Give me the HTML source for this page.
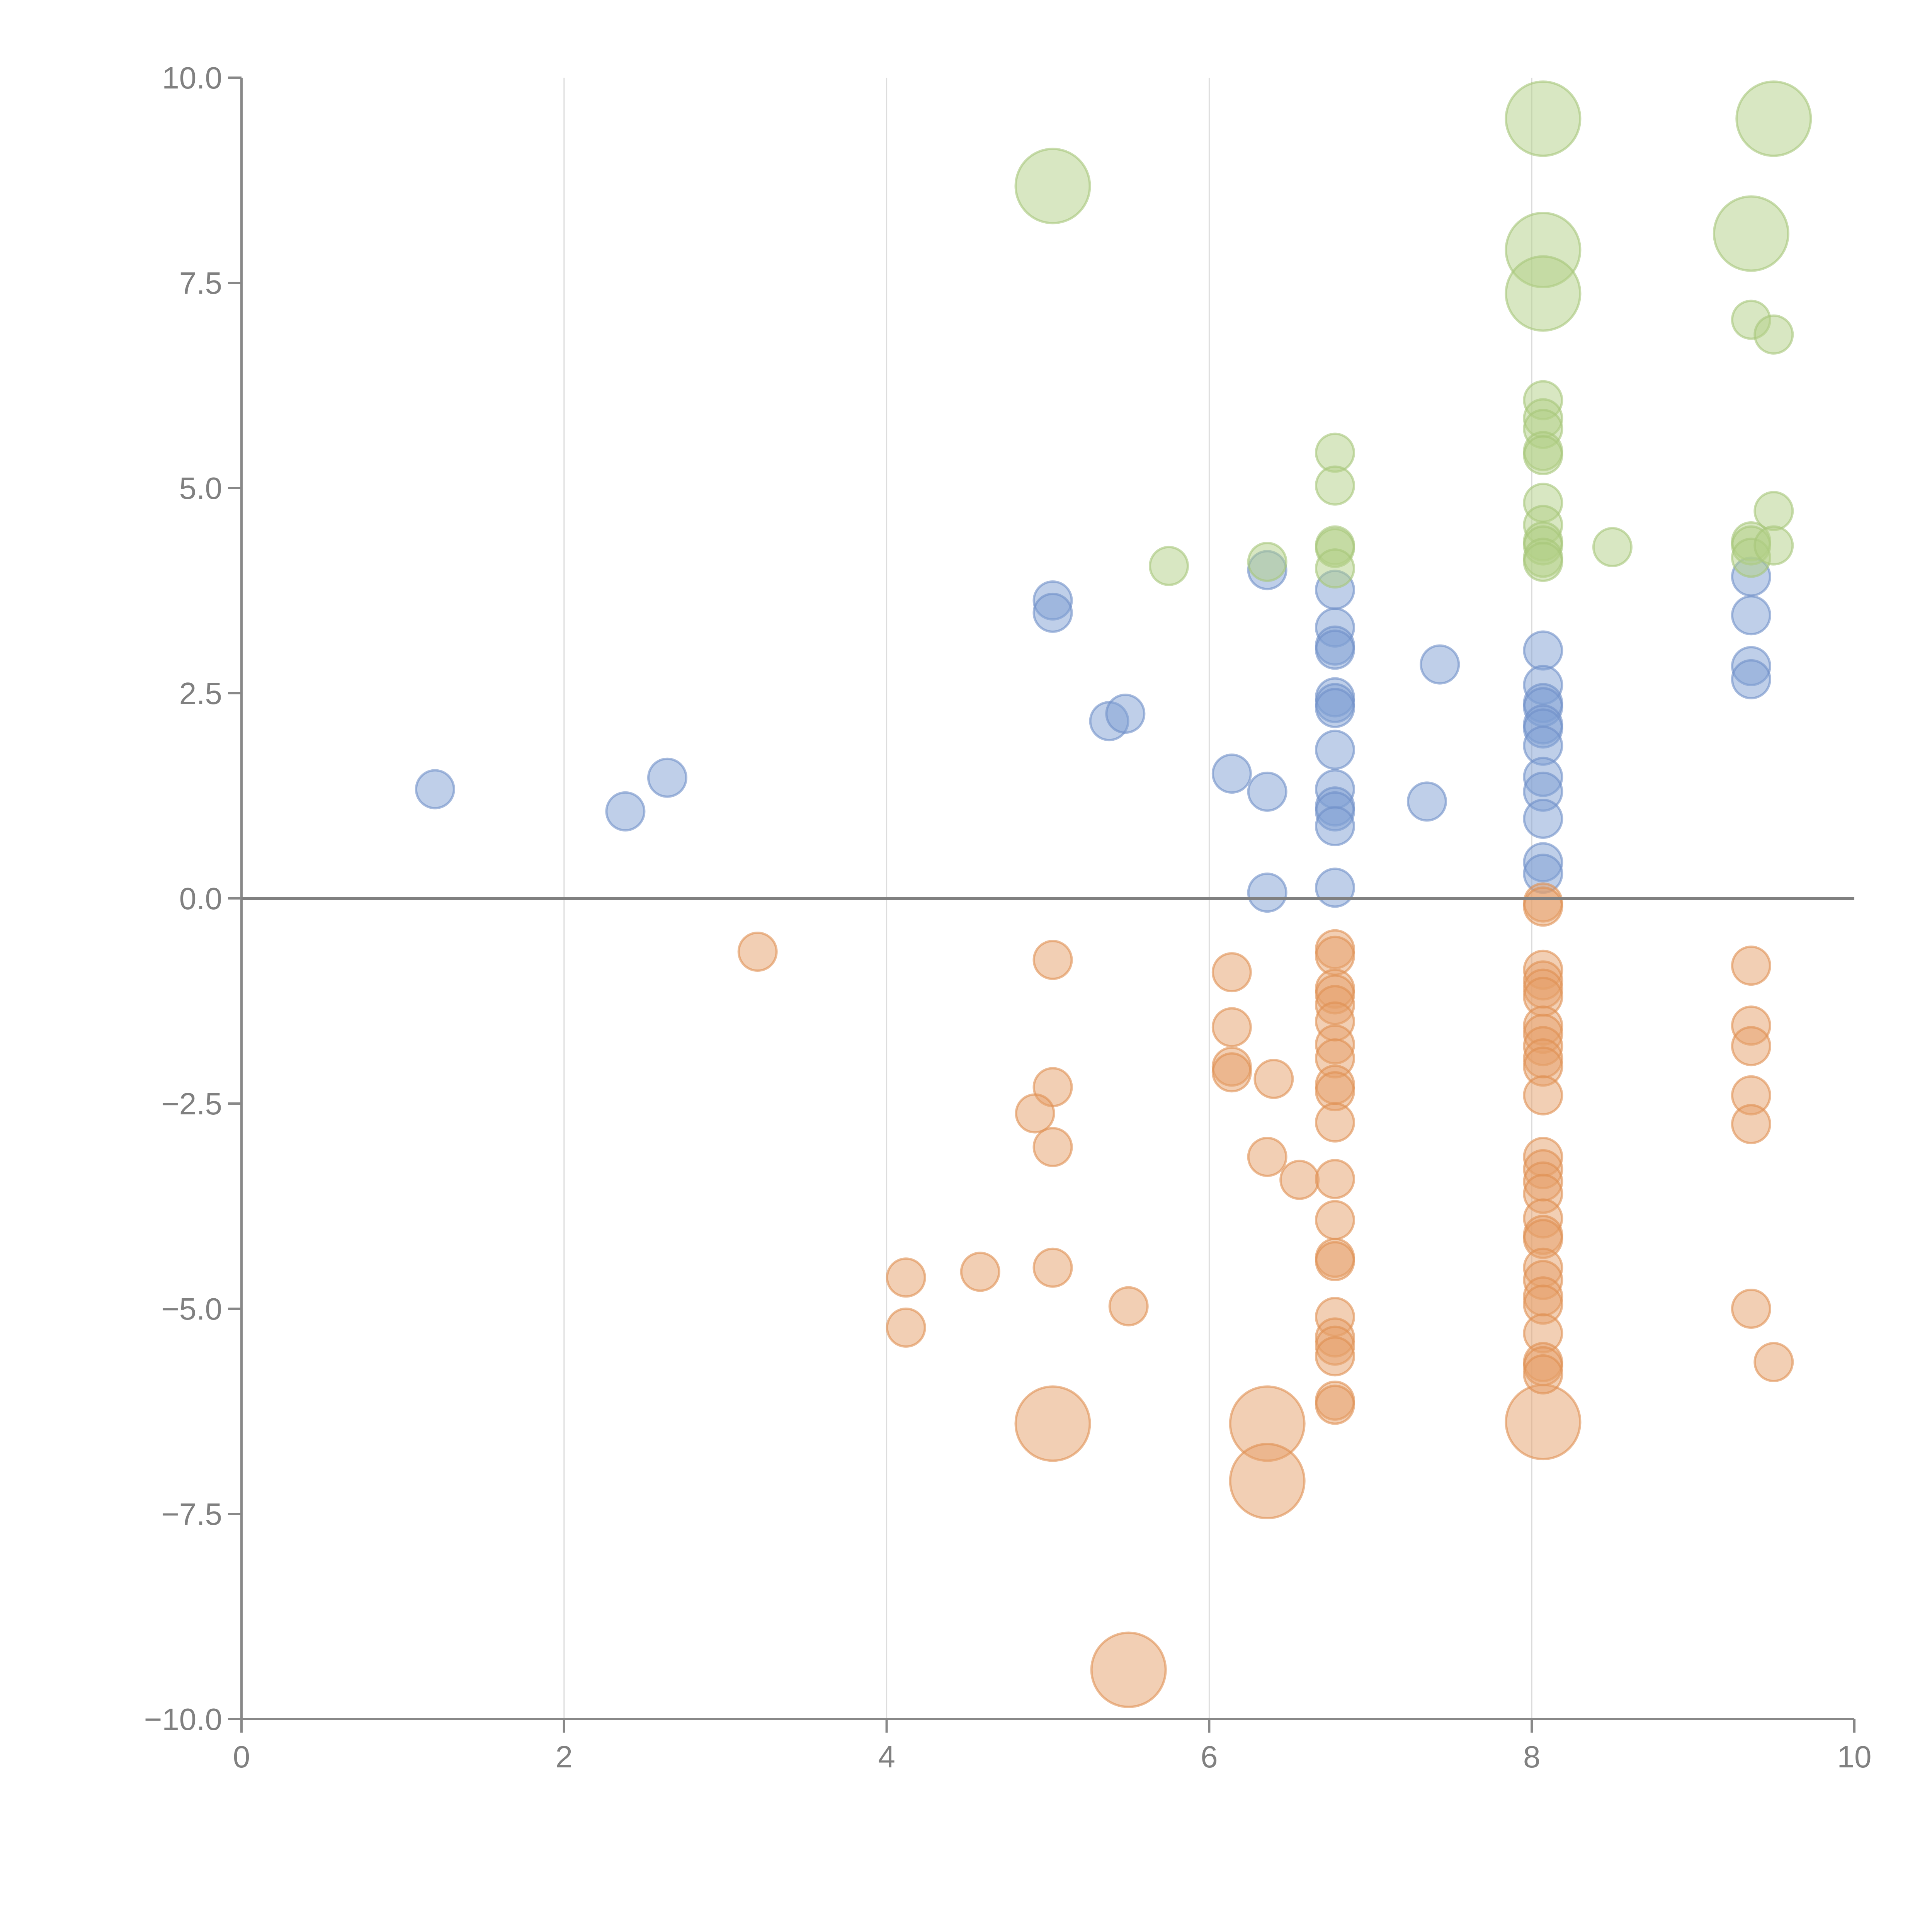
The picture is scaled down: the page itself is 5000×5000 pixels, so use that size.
<!DOCTYPE html>
<html><head><meta charset="utf-8"><style>
html,body{margin:0;padding:0;background:#fff;}
svg{display:block;font-family:"Liberation Sans",sans-serif;}
</style></head><body>
<svg id="chart" width="5000" height="5000" viewBox="0 0 5000 5000" xmlns="http://www.w3.org/2000/svg">
<g id="grid"></g>
<g id="marks"></g>
<g id="axes"></g>
</svg>
<script>
const xTicks=[0,2,4,6,8,10];
const yTicks=[10,7.5,5,2.5,0,-2.5,-5,-7.5,-10];
const yTickLabels=["10.0","7.5","5.0","2.5","0.0","\u22122.5","\u22125.0","\u22127.5","\u221210.0"];
const blueX=[1.2,2.38,2.64,5.03,5.03,5.38,5.48,6.14,6.36,6.36,6.36,6.78,6.78,6.78,6.78,6.78,6.78,6.78,6.78,6.78,6.78,6.78,6.78,6.78,7.35,7.43,8.07,8.07,8.07,8.07,8.07,8.07,8.07,8.07,8.07,8.07,8.07,8.07,9.36,9.36,9.36,9.36];
const blueY=[1.33,1.06,1.47,3.63,3.48,2.16,2.25,1.52,1.3,0.07,4.0,3.76,3.3,3.08,3.03,2.45,2.38,2.32,1.81,1.33,1.12,1.06,0.88,0.13,1.18,2.85,3.02,2.6,2.38,2.33,2.12,2.07,1.86,1.48,1.3,0.97,0.44,0.3,3.92,3.45,2.83,2.67];
const greenX=[5.03,8.07,9.5,8.07,8.07,9.36,5.75,6.36,6.78,6.78,6.78,6.78,6.78,8.07,8.07,8.07,8.07,8.07,8.07,8.07,8.07,8.07,8.07,8.07,8.5,9.36,9.5,9.36,9.36,9.36,9.5,9.5];
const greenY=[8.68,9.5,9.5,7.9,7.37,8.1,4.05,4.1,5.43,5.03,4.3,4.27,4.02,6.07,5.85,5.72,5.45,5.4,4.82,4.55,4.35,4.3,4.15,4.1,4.28,7.05,6.87,4.35,4.3,4.15,4.72,4.3];
const greenSize=[2,2,2,2,2,2,1,1,1,1,1,1,1,1,1,1,1,1,1,1,1,1,1,1,1,1,1,1,1,1,1,1];
const orangeX=[5.03,6.36,6.36,8.07,5.5,
3.2,5.03,5.03,4.92,5.03,4.12,4.12,4.58,5.03,5.5,
6.14,6.14,6.14,6.14,6.4,6.36,6.56,
6.78,6.78,6.78,6.78,6.78,6.78,6.78,6.78,6.78,6.78,6.78,6.78,6.78,6.78,6.78,6.78,6.78,6.78,6.78,6.78,6.78,
8.07,8.07,8.07,8.07,8.07,8.07,8.07,8.07,8.07,8.07,8.07,8.07,8.07,8.07,8.07,8.07,8.07,8.07,8.07,8.07,8.07,8.07,8.07,8.07,8.07,8.07,8.07,
9.36,9.36,9.36,9.36,9.36,9.36,9.5];
const orangeY=[-6.4,-6.4,-7.1,-6.38,-9.4,
-0.65,-0.75,-2.3,-2.62,-3.03,-4.62,-5.23,-4.55,-4.5,-4.97,
-0.9,-1.57,-2.05,-2.12,-2.2,-3.15,-3.43,
-0.62,-0.7,-1.1,-1.17,-1.3,-1.5,-1.78,-1.95,-2.27,-2.35,-2.73,-3.42,-3.92,-4.38,-4.42,-5.1,-5.35,-5.45,-5.58,-6.12,-6.17,
-0.05,-0.1,-0.87,-1.0,-1.1,-1.2,-1.55,-1.65,-1.8,-1.95,-2.05,-2.4,-3.15,-3.3,-3.45,-3.6,-3.9,-4.1,-4.15,-4.5,-4.65,-4.85,-4.95,-5.3,-5.65,-5.7,-5.8,
-0.82,-1.55,-1.8,-2.4,-2.75,-5.0,-5.65];
const orangeSize=[2,2,2,2,2];

const NS="http://www.w3.org/2000/svg";
const X0=625,X1=4799,Y0=201,Y1=4449;
function sx(v){return X0+(v-0)/(10-0)*(X1-X0);}
function sy(v){return Y0+(10-v)/(20)*(Y1-Y0);}
function mk(tag,attrs,parent){const e=document.createElementNS(NS,tag);for(const k in attrs)e.setAttribute(k,attrs[k]);parent.appendChild(e);return e;}
const grid=document.getElementById('grid'),marks=document.getElementById('marks'),axes=document.getElementById('axes');
xTicks.forEach(t=>{if(t>0&&t<10){const l=mk('line',{x1:sx(t),x2:sx(t),y1:Y0,y2:Y1,stroke:'#dcdcdc','stroke-width':3},grid);

}});
function series(xs,ys,sizes,fill,stroke,name){
  xs.forEach((x,i)=>{const big=(sizes&&sizes[i]===2);
    const c=mk('circle',{cx:sx(x),cy:sy(ys[i]),r:big?96:49,fill:fill,'fill-opacity':0.5,stroke:stroke,'stroke-opacity':0.6,'stroke-width':6},marks);
    
    
  });
}
series(blueX,blueY,null,'#7f9fd3','#6f90c8','blue');
series(greenX,greenY,greenSize,'#b2cf86','#a6c77a','green');
series(orangeX,orangeY,orangeSize,'#e6a06a','#e08f52','orange');
let a=mk('line',{x1:X0,x2:X0,y1:Y0,y2:Y1,stroke:'#888','stroke-width':6},axes);


a=mk('line',{x1:X0,x2:X1,y1:Y1,y2:Y1,stroke:'#888','stroke-width':6},axes);


a=mk('line',{x1:X0,x2:X1,y1:sy(0),y2:sy(0),stroke:'#808080','stroke-width':8},axes);


xTicks.forEach(t=>{mk('line',{x1:sx(t),x2:sx(t),y1:Y1,y2:Y1+35,stroke:'#888','stroke-width':6},axes);
  const tx=mk('text',{x:sx(t),y:Y1+125,'text-anchor':'middle','font-size':80,fill:'#808080'},axes);tx.textContent=t;
  
  });
yTicks.forEach((t,i)=>{mk('line',{x1:X0-35,x2:X0,y1:sy(t),y2:sy(t),stroke:'#888','stroke-width':6},axes);
  const tx=mk('text',{x:X0-50,y:sy(t)+28,'text-anchor':'end','font-size':80,fill:'#808080'},axes);tx.textContent=yTickLabels[i];
  
  });
</script>
</body></html>
